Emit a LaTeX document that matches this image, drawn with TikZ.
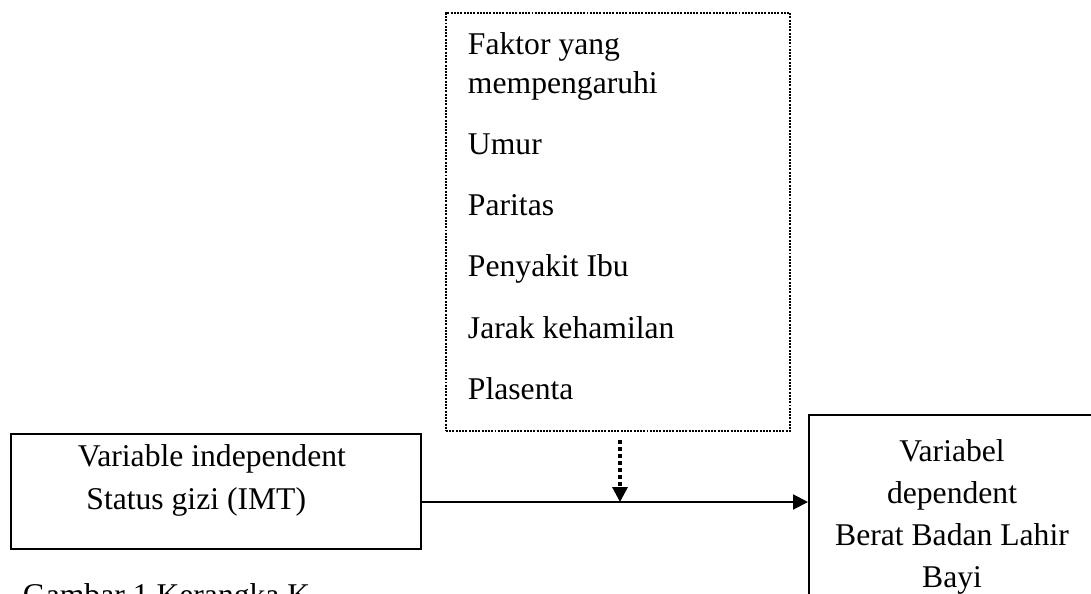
\documentclass[tikz,border=0pt]{standalone}
\usepackage{fontspec}
\setmainfont{Liberation Serif}
\usetikzlibrary{arrows.meta}

\begin{document}
\begin{tikzpicture}[x=0.025cm,y=-0.025cm,line width=1.4pt,>={Triangle[length=10.5pt,width=10.5pt]},
  txt/.style={inner sep=0pt,font=\fontsize{22.5}{27.7}\selectfont},
  box/.style={draw,rectangle,inner sep=0pt},
  dotbox/.style={box,dash pattern=on 1.4pt off 0.9pt}]
  \useasboundingbox (0,0) rectangle (1091,593);
  \clip (0,0) rectangle (1091,593);
  % kotak faktor
  \node[dotbox,anchor=north west,minimum width=8.6cm,minimum height=10.45cm] (factors) at (445,12) {};
  \node[txt,align=left,anchor=north west] (factortext) at (467,32)
    {Faktor yang\\mempengaruhi\\[15.7pt]Umur\\[15.7pt]Paritas\\[15.7pt]Penyakit Ibu\\[15.7pt]Jarak kehamilan\\[15.7pt]Plasenta};
  % variabel
  \node[box,anchor=north west,minimum width=10.25cm,minimum height=2.875cm] (indep) at (10,433) {};
  \node[txt,font=\fontsize{22.5}{30.6}\selectfont,align=left,anchor=north west] (indeptext) at (77,444)
    {Variable independent\\\hspace*{6pt}Status gizi (IMT)};
  \node[box,txt,draw,align=center,font=\fontsize{22.5}{30}\selectfont,anchor=north west,
    minimum width=7.15cm,minimum height=5.1cm] (dep) at (808,414)
    {Variabel\\dependent\\Berat Badan Lahir\\Bayi};
  \node[txt,anchor=base west] (caption) at (22,605) {Gambar 1 Kerangka K};
  % panah
  \coordinate (mid) at (620,502);
  \draw[->] (indep.east |- mid) -- (dep.west |- mid);
  \draw[->,line width=2.2pt,dash pattern=on 3pt off 2pt,shorten <=0.2cm] (factors.south -| mid) -- (mid);
\end{tikzpicture}
\end{document}
